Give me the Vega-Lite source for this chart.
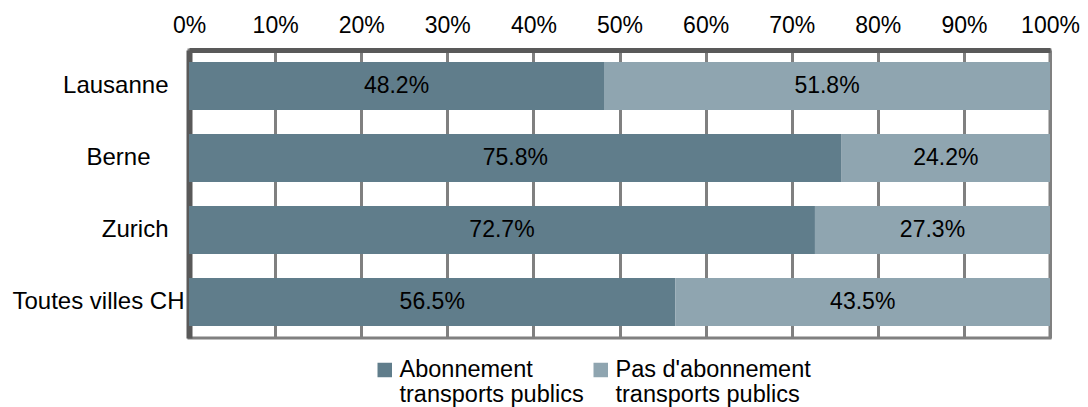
{
  "$schema": "https://vega.github.io/schema/vega-lite/v6.json",
  "width": 861,
  "height": 288,
  "autosize": {"type": "none"},
  "padding": {"left": 189, "top": 50, "right": 38, "bottom": 69},
  "background": "white",
  "config": {
    "font": "Liberation Sans",
    "view": {"stroke": "#808080", "strokeWidth": 3},
    "axis": {"labelFont": "Liberation Sans", "labelFontSize": 24, "labelColor": "#000000", "ticks": false, "title": null}
  },
  "data": {
    "values": [
      {"city": "Lausanne", "type": "Abonnement|transports publics", "value": 0.482},
      {"city": "Lausanne", "type": "Pas d'abonnement|transports publics", "value": 0.518},
      {"city": "Berne", "type": "Abonnement|transports publics", "value": 0.758},
      {"city": "Berne", "type": "Pas d'abonnement|transports publics", "value": 0.242},
      {"city": "Zurich", "type": "Abonnement|transports publics", "value": 0.727},
      {"city": "Zurich", "type": "Pas d'abonnement|transports publics", "value": 0.273},
      {"city": "Toutes villes CH", "type": "Abonnement|transports publics", "value": 0.565},
      {"city": "Toutes villes CH", "type": "Pas d'abonnement|transports publics", "value": 0.435}
    ]
  },
  "encoding": {
    "y": {
      "field": "city",
      "type": "nominal",
      "sort": ["Lausanne", "Berne", "Zurich", "Toutes villes CH"],
      "scale": {"paddingInner": 0.3333, "paddingOuter": 0.1667},
      "axis": {
        "domainColor": "#595959",
        "domainWidth": 6,
        "labelPadding": {"condition": [{"test": "datum.value == 'Berne'", "value": 39}, {"test": "datum.value == 'Toutes villes CH'", "value": 5}], "value": 21}
      }
    },
    "order": {"field": "type", "sort": "ascending"}
  },
  "layer": [
    {
      "mark": {"type": "bar"},
      "encoding": {
        "x": {
          "field": "value",
          "type": "quantitative",
          "stack": "zero",
          "scale": {"domain": [0, 1], "nice": false},
          "axis": {
            "orient": "top",
            "format": ".0%",
            "values": [0, 0.1, 0.2, 0.3, 0.4, 0.5, 0.6, 0.7, 0.8, 0.9, 1],
            "grid": true,
            "gridColor": "#808080",
            "gridWidth": 3,
            "domainColor": "#595959",
            "domainWidth": 5,
            "labelFontSize": 23,
            "labelFlush": false,
            "labelPadding": 13
          }
        },
        "color": {
          "field": "type",
          "type": "nominal",
          "scale": {"range": ["#607D8B", "#8FA5B0"]},
          "legend": {
            "orient": "none",
            "legendX": 184,
            "legendY": 282,
            "direction": "horizontal",
            "title": null,
            "symbolType": "M-1,2.57H1V4.57H-1Z",
            "symbolSize": 210,
            "symbolStrokeWidth": 0,
            "labelFont": "Liberation Sans",
            "labelFontSize": 23.5,
            "labelLineHeight": 25,
            "labelColor": "#000000",
            "labelLimit": 400,
            "labelExpr": "split('|' + datum.label, '|')",
            "labelBaseline": "middle",
            "labelOffset": 3,
            "columnPadding": 5
          }
        }
      }
    },
    {
      "mark": {"type": "text", "fontSize": 23, "color": "#000000", "font": "Liberation Sans"},
      "encoding": {
        "x": {"field": "value", "type": "quantitative", "stack": "zero", "bandPosition": 0.5},
        "detail": {"field": "type"},
        "text": {"field": "value", "type": "quantitative", "format": ".1%"}
      }
    }
  ]
}
